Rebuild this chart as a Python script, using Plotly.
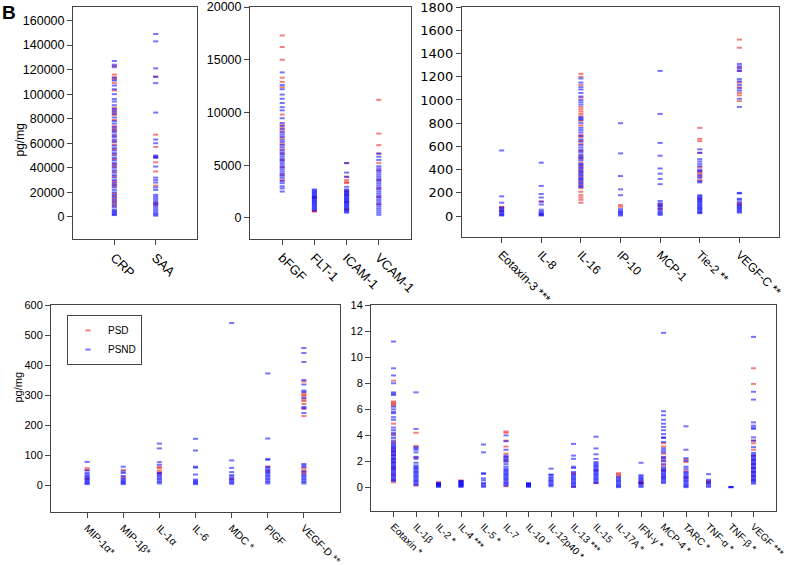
import plotly.graph_objects as go

# panel A: CRP, SAA
cats_a = ["CRP", "SAA"]
psd_a = [
    [123000, 116000, 114000, 112000, 109000, 103000, 89000, 87000, 85000, 83000, 79000, 74000, 72000,
     70000, 66000, 62000, 59000, 55000, 51000, 47000, 43000, 41000, 37000, 33000, 29000, 27000, 25000,
     19000, 17000, 15000, 13000, 11000, 9000],
    [114500, 67000, 57000, 49000, 44500, 37000, 25500, 11500, 10000],
]
psnd_a = [
    [127000, 124000, 122000, 113000, 111000, 107000, 104000, 100000, 96000, 94000, 91000, 88000, 86000,
     84000, 81000, 78000, 76000, 73000, 71000, 69000, 67000, 65000, 63000, 61000, 58000, 56000, 54000,
     52000, 50000, 48000, 46000, 44000, 42000, 40000, 38000, 36000, 34000, 32000, 30000, 28000, 26000,
     24000, 22000, 20000, 18000, 16000, 14000, 12000, 10000, 8000, 6000, 5000, 4000, 3000, 2000, 1500],
    [149000, 143000, 121000, 114000, 109000, 85000, 63000, 60000, 50000, 49000, 48000, 41000, 32000,
     30000, 28000, 24000, 22000, 18000, 16500, 15000, 13500, 12000, 10500, 9000, 7500, 6000, 4500,
     3000, 2000, 1000],
]

# panel B: bFGF ... VCAM-1
cats_b = ["bFGF", "FLT-1", "ICAM-1", "VCAM-1"]
psd_b = [
    [17300, 16200, 15000, 13300, 12900, 12400, 9800, 8800, 8500, 8200, 7600, 7000, 6500, 6100, 5500,
     4800, 4100, 3600],
    [2000, 1900, 650, 600],
    [5200, 3900, 3600, 3400, 3300, 2500, 2200, 1500, 800],
    [11200, 8000, 6900, 6100, 5200, 4500, 3600, 2800, 2000, 1300],
]
psnd_b = [
    [13800, 12600, 12200, 11700, 11300, 10900, 10500, 10200, 9450, 9000, 8700, 8400, 8100, 7900, 7700,
     7400, 7200, 6900, 6700, 6400, 6200, 6000, 5800, 5600, 5400, 5200, 5000, 4800, 4600, 4400, 4200,
     4000, 3800, 3500, 3300, 3000, 2800, 2500],
    [2700, 2600, 2500, 2400, 2300, 2200, 2100, 2000, 1900, 1800, 1700, 1600, 1500, 1400, 1300, 1200,
     1100, 1000, 900, 800, 700],
    [5200, 4300, 3900, 2950, 2700, 2600, 2500, 2400, 2300, 2200, 2100, 2000, 1900, 1800, 1700, 1600,
     1500, 1400, 1300, 1200, 1100, 1000, 900, 800, 700, 600, 500],
    [6100, 5800, 5500, 4900, 4700, 4500, 4300, 4100, 3900, 3700, 3500, 3300, 3100, 2900, 2700, 2500,
     2300, 2100, 1900, 1700, 1500, 1300, 1100, 900, 700, 500, 300],
]

# panel C: Eotaxin-3 ... VEGF-C
cats_c = ["Eotaxin-3 ***", "IL-8", "IL-16", "IP-10", "MCP-1", "Tie-2 **", "VEGF-C **"]
psd_c = [
    [80, 70, 45],
    [125, 15],
    [1225, 1200, 1130, 1020, 940, 920, 900, 880, 860, 820, 780, 700, 680, 650, 620, 560, 520, 490,
     460, 430, 400, 370, 340, 300, 270, 240, 210, 180, 160, 140, 115],
    [95, 80],
    [105, 85, 60],
    [760, 665, 645, 545, 420, 390, 375, 360, 340, 310, 150],
    [1520, 1450, 1280, 1250, 1150, 1110, 1060, 1040, 990, 110, 100],
]
psnd_c = [
    [565, 170, 115, 75, 60, 50, 40, 30, 20, 10, 5],
    [460, 260, 190, 160, 125, 100, 55, 40, 30, 20, 10, 5],
    [1185, 1150, 1110, 1090, 1060, 1030, 1000, 980, 960, 850, 840, 830, 800, 760, 740, 720, 690, 660,
     640, 610, 590, 570, 550, 530, 510, 500, 480, 450, 440, 420, 410, 390, 380, 360, 350, 330, 320,
     310, 290, 280, 260, 250],
    [800, 540, 345, 230, 180, 60, 45, 35, 25, 15, 5],
    [1250, 880, 630, 520, 410, 365, 320, 275, 130, 110, 95, 85, 70, 55, 40, 30, 20, 10],
    [575, 545, 490, 470, 450, 430, 400, 385, 350, 330, 300, 290, 180, 170, 160, 150, 140, 130, 120,
     110, 100, 90, 80, 70, 60, 50, 40, 30, 25],
    [1310, 1290, 1270, 1250, 1180, 1160, 1130, 1100, 1080, 1010, 940, 200, 195, 150, 140, 120, 100,
     90, 80, 70, 60, 50, 40, 30],
]

# panel D: MIP-1a ... VEGF-D
cats_d = ["MIP-1α*", "MIP-1β*", "IL-1α", "IL-6", "MDC *", "PlGF", "VEGF-D **"]
psd_d = [
    [56, 50, 20],
    [50, 26],
    [60, 56, 48, 42, 38],
    [],
    [20],
    [62, 45],
    [345, 305, 300, 295, 285, 280, 270, 255, 230, 55, 48, 42, 38],
]
psnd_d = [
    [77, 48, 40, 35, 30, 26, 22, 18, 14, 10, 6, 3],
    [61, 45, 40, 30, 22, 18, 14, 10, 6, 3],
    [138, 122, 76, 67, 40, 35, 30, 25, 20, 15, 10, 5],
    [154, 115, 61, 58, 35, 18, 14, 10, 6, 3],
    [540, 82, 57, 43, 33, 28, 22, 17, 12, 8, 4],
    [372, 155, 87, 84, 60, 55, 50, 45, 40, 35, 30, 25, 20, 15, 10, 5],
    [457, 440, 410, 350, 335, 315, 310, 290, 260, 255, 240, 70, 65, 60, 45, 35, 30, 25, 20, 15, 10, 5],
]

# panel E: Eotaxin ... VEGF
cats_e = ["Eotaxin *", "IL-1β", "IL-2 *", "IL-4 ***", "IL-5 *", "IL-7", "IL-10 *", "IL-12p40 *",
          "IL-13 ***", "IL-15", "IL-17A *", "IFN-γ *", "MCP-4 *", "TARC *", "TNF-α *", "TNF-β *",
          "VEGF ***"]
psd_e = [
    [8.2, 6.6, 6.5, 6.4, 6.3, 4.9, 4.1, 3.5, 3.0, 2.75, 2.5, 2.2, 1.95, 1.6, 1.4, 1.0, 0.6, 0.4],
    [4.2, 3.2, 2.3, 0.15],
    [0.42, 0.3],
    [0.55, 0.5],
    [],
    [4.3, 4.2, 3.6, 3.15, 2.6, 2.3, 2.0, 0.1],
    [],
    [],
    [1.1, 0.05],
    [1.3, 0.33],
    [1.1, 1.0, 0.9],
    [0.45, 0.35, 0.3],
    [3.4, 3.15, 2.6, 2.3, 2.0, 1.7, 1.3, 0.8],
    [2.15, 1.95, 1.3, 0.75],
    [0.5, 0.4],
    [],
    [9.15, 7.95, 3.6, 3.4, 2.9, 2.45, 2.1, 1.8, 1.5, 1.2, 0.9, 0.6],
]
psnd_e = [
    [11.2, 9.15, 8.6, 8.0, 7.3, 7.2, 7.1, 6.2, 6.0, 5.8, 5.7, 5.4, 5.2, 4.6, 4.4, 4.2, 4.0, 3.8, 3.6,
     3.4, 3.3, 3.2, 3.1, 3.0, 2.9, 2.8, 2.7, 2.6, 2.5, 2.4, 2.3, 2.2, 2.1, 2.0, 1.9, 1.8, 1.7, 1.6,
     1.5, 1.4, 1.3, 1.2, 1.1, 1.0, 0.9, 0.8, 0.7, 0.6, 0.5],
    [7.3, 4.5, 3.1, 3.0, 2.9, 2.7, 2.35, 2.2, 1.9, 1.7, 1.6, 1.5, 1.4, 1.3, 1.2, 1.1, 1.0, 0.9, 0.8,
     0.7, 0.6, 0.5, 0.4, 0.3, 0.2],
    [0.35, 0.3, 0.25, 0.2, 0.15, 0.1, 0.05],
    [0.5, 0.45, 0.4, 0.35, 0.3, 0.25, 0.2, 0.15, 0.1, 0.05],
    [3.3, 2.7, 1.1, 1.05, 0.7, 0.55, 0.35, 0.25, 0.15, 0.05],
    [4.0, 3.55, 2.9, 2.45, 2.35, 2.2, 2.1, 2.0, 1.8, 1.6, 1.45, 1.35, 1.25, 1.15, 1.05, 0.95, 0.85,
     0.75, 0.65, 0.55, 0.45, 0.35, 0.25, 0.15],
    [0.35, 0.3, 0.25, 0.2, 0.15, 0.1, 0.05],
    [1.45, 1.0, 0.95, 0.8, 0.7, 0.6, 0.5, 0.4, 0.3, 0.2, 0.1],
    [3.35, 2.45, 2.2, 1.6, 1.5, 1.2, 1.05, 0.95, 0.85, 0.75, 0.65, 0.55, 0.45, 0.35, 0.25, 0.15, 0.05],
    [3.9, 3.0, 2.55, 2.2, 1.95, 1.85, 1.75, 1.65, 1.55, 1.45, 1.35, 1.25, 1.15, 1.05, 0.95, 0.85,
     0.75, 0.65, 0.55, 0.45, 0.35],
    [0.8, 0.7, 0.6, 0.5, 0.4, 0.3, 0.2, 0.1, 0.03],
    [1.9, 0.95, 0.85, 0.75, 0.65, 0.55, 0.45, 0.35, 0.25, 0.15, 0.05],
    [11.87, 5.85, 5.55, 5.2, 4.9, 4.65, 4.4, 4.1, 3.85, 3.8, 3.5, 3.0, 2.85, 2.7, 2.35, 2.2, 2.05,
     1.8, 1.55, 1.45, 1.35, 1.25, 1.15, 1.05, 0.95, 0.85, 0.75, 0.65, 0.55, 0.45, 0.35],
    [4.7, 2.9, 2.25, 2.05, 1.6, 1.45, 1.2, 1.1, 1.0, 0.9, 0.8, 0.7, 0.6, 0.5, 0.4, 0.3, 0.2, 0.1, 0.03],
    [1.03, 0.6, 0.45, 0.35, 0.25, 0.15, 0.05],
    [0.05, 0.03, 0.02],
    [11.56, 7.35, 6.75, 5.0, 4.75, 4.6, 4.5, 3.85, 3.6, 3.1, 2.65, 2.5, 2.4, 2.3, 2.2, 2.1, 2.0, 1.9,
     1.8, 1.7, 1.6, 1.5, 1.4, 1.3, 1.2, 1.1, 1.0, 0.9, 0.8, 0.7, 0.6, 0.5, 0.4, 0.3],
]

RED = "rgba(230,0,0,0.5)"
BLUE = "rgba(0,0,255,0.55)"
W, H = 788, 565
FONT = "Liberation Sans, Arial, sans-serif"
WIDE = "DejaVu Sans, sans-serif"

# (cats, psd, psnd, px box [x0,x1,ytop,ybottom], yrange, dtick, ytick font, xtick font, y family)
panels = [
    (cats_a, psd_a, psnd_a, [73, 197, 7, 239], [-18000, 171000], 20000, 12.5, 13, FONT),
    (cats_b, psd_b, psnd_b, [250, 411, 7, 239], [-2000, 20001], 5000, 12.5, 13, FONT),
    (cats_c, psd_c, psnd_c, [462, 779, 7, 237], [-180, 1800.5], 200, 13, 12, WIDE),
    (cats_d, psd_d, psnd_d, [51, 340, 305, 512], [-90, 600.2], 100, 11, 10.5, FONT),
    (cats_e, psd_e, psnd_e, [371, 776, 305, 511], [-1.8, 14.005], 2, 11, 10, FONT),
]

fig = go.Figure()
layout = {}
for i, (cats, psd, psnd, box, yr, dt, yfs, xfs, fam) in enumerate(panels):
    n = i + 1
    xa = "x" if n == 1 else f"x{n}"
    ya = "y" if n == 1 else f"y{n}"
    for name, data, col in [("PSD", psd, RED), ("PSND", psnd, BLUE)]:
        xs, ys = [], []
        for c, vals in zip(cats, data):
            xs += [c] * len(vals)
            ys += vals
        fig.add_trace(go.Scatter(
            x=xs, y=ys, mode="markers", name=name, xaxis=xa, yaxis=ya,
            showlegend=(n == 4),
            marker=dict(symbol="line-ew", size=3.6, line=dict(color=col, width=2)),
        ))
    x0, x1, yt0, yb0 = box
    sfx = "" if n == 1 else str(n)
    layout["xaxis" + sfx] = dict(
        domain=[x0 / W, x1 / W], anchor=ya, type="category", automargin=False,
        categoryorder="array", categoryarray=cats,
        tickmode="array", tickvals=cats, ticktext=cats,
        range=[-1, len(cats)], tickangle=45, ticks="outside", ticklen=5,
        showline=True, mirror=True, linecolor="#444", linewidth=1,
        showgrid=False, zeroline=False, ticklabeloverflow="allow",
        tickfont=dict(size=xfs, color="black", family=FONT),
    )
    layout["yaxis" + sfx] = dict(
        domain=[1 - yb0 / H, 1 - yt0 / H], anchor=xa, range=yr, dtick=dt, tickformat="d",
        automargin=False, ticks="outside", ticklen=5, showline=True, mirror=True,
        linecolor="#444", linewidth=1, showgrid=False, zeroline=False,
        ticklabeloverflow="allow", tickfont=dict(size=yfs, color="black", family=fam),
    )

fig.update_layout(
    **layout,
    width=W, height=H,
    margin=dict(l=0, r=0, t=0, b=0),
    paper_bgcolor="white", plot_bgcolor="white",
    font=dict(family=FONT, size=12, color="black"),
    legend=dict(x=67 / W, y=1 - 315 / H, xanchor="left", yanchor="top",
                bordercolor="#444", borderwidth=1, bgcolor="white",
                font=dict(size=10), tracegroupgap=0, itemwidth=30),
    annotations=[
        dict(text="<b>B</b>", x=0, y=1, xref="paper", yref="paper", xanchor="left",
             yanchor="top", showarrow=False, font=dict(size=19, color="black")),
        dict(text="pg/mg", x=10 / W, y=1 - 122 / H, xref="paper", yref="paper",
             textangle=-90, showarrow=False, font=dict(size=12, color="black")),
        dict(text="pg/mg", x=9 / W, y=1 - 405 / H, xref="paper", yref="paper",
             textangle=-90, showarrow=False, font=dict(size=11, color="black")),
    ],
)

# drop the default body margin so the figure sits at the page corner
fig.write_html("out.html", config={"displayModeBar": False},
               post_script="document.body.style.margin='0';")
